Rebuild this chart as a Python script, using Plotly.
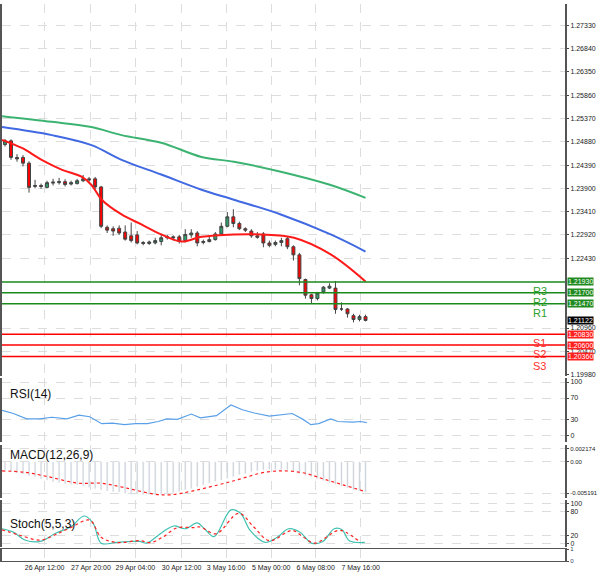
import plotly.graph_objects as go

# 4h candles
opens = [1.2482, 1.2490, 1.2455, 1.2455, 1.2443, 1.2394, 1.2396, 1.2392, 1.2401, 1.2402,
         1.2404, 1.2399, 1.2400, 1.2406, 1.2410, 1.2410, 1.2393, 1.2308, 1.2305, 1.2306,
         1.2298, 1.2290, 1.2292, 1.2276, 1.2274, 1.2275, 1.2278, 1.2286, 1.2288, 1.2288,
         1.2280, 1.2292, 1.2296, 1.2276, 1.2278, 1.2282, 1.2294, 1.2310, 1.2330, 1.2316,
         1.2305, 1.2300, 1.2290, 1.2294, 1.2275, 1.2272, 1.2276, 1.2284, 1.2267, 1.2250,
         1.2198, 1.2166, 1.2158, 1.2172, 1.2180, 1.2180, 1.2136, 1.2136, 1.2122, 1.2114, 1.2120]
closes = [1.2490, 1.2455, 1.2452, 1.2443, 1.2392, 1.2396, 1.2394, 1.2402, 1.2403, 1.2404,
          1.2398, 1.2402, 1.2406, 1.2410, 1.2408, 1.2393, 1.2310, 1.2302, 1.2300, 1.2296,
          1.2283, 1.2280, 1.2275, 1.2274, 1.2277, 1.2280, 1.2286, 1.2288, 1.2286, 1.2278,
          1.2293, 1.2296, 1.2275, 1.2278, 1.2282, 1.2294, 1.2310, 1.2330, 1.2316, 1.2305,
          1.2302, 1.2290, 1.2287, 1.2275, 1.2270, 1.2276, 1.2280, 1.2267, 1.2250, 1.2200,
          1.2165, 1.2158, 1.2170, 1.2182, 1.2184, 1.2135, 1.2136, 1.2126, 1.2114, 1.2120, 1.2112]
highs = [1.2494, 1.2493, 1.2462, 1.2460, 1.2447, 1.2408, 1.2400, 1.2406, 1.2410, 1.2412,
         1.2409, 1.2406, 1.2410, 1.2418, 1.2414, 1.2414, 1.2395, 1.2312, 1.2310, 1.2312,
         1.2312, 1.2318, 1.2300, 1.2279, 1.2280, 1.2286, 1.2292, 1.2292, 1.2291, 1.2292,
         1.2304, 1.2304, 1.2300, 1.2282, 1.2288, 1.2298, 1.2318, 1.2340, 1.2346, 1.2320,
         1.2308, 1.2304, 1.2298, 1.2298, 1.2280, 1.2280, 1.2286, 1.2288, 1.2270, 1.2254,
         1.2200, 1.2168, 1.2172, 1.2184, 1.2190, 1.2195, 1.2150, 1.2138, 1.2126, 1.2124, 1.2124]
lows = [1.2478, 1.2450, 1.2446, 1.2436, 1.2381, 1.2390, 1.2389, 1.2390, 1.2396, 1.2398,
        1.2394, 1.2396, 1.2398, 1.2403, 1.2404, 1.2388, 1.2306, 1.2296, 1.2290, 1.2292,
        1.2280, 1.2276, 1.2272, 1.2270, 1.2271, 1.2272, 1.2270, 1.2282, 1.2280, 1.2274,
        1.2276, 1.2286, 1.2268, 1.2272, 1.2276, 1.2280, 1.2292, 1.2308, 1.2308, 1.2302,
        1.2298, 1.2286, 1.2284, 1.2266, 1.2266, 1.2268, 1.2268, 1.2262, 1.2238, 1.2186,
        1.2158, 1.2148, 1.2154, 1.2168, 1.2178, 1.2126, 1.2132, 1.2118, 1.2108, 1.2110, 1.2110]
bars = list(range(len(closes)))

# moving averages (sampled points)
ma_red_x = [-0.5, 2.8, 6.1, 9.5, 12.8, 14.4, 16.1, 19.4, 22.7, 26, 29.4, 32.7, 38.1, 42.6, 48.1, 54.2, 60]
ma_red = [1.2492, 1.2475, 1.2450, 1.2429, 1.2414, 1.2397, 1.2366, 1.2335, 1.2314, 1.2293,
          1.2278, 1.2288, 1.2293, 1.2293, 1.2286, 1.2251, 1.2194]
ma_blue_x = [-0.5, 7.8, 14.4, 19.4, 26, 32.7, 38.1, 45.9, 54.2, 60]
ma_blue = [1.2519, 1.2502, 1.2481, 1.2450, 1.2419, 1.2387, 1.2366, 1.2335, 1.2293, 1.2257]
ma_green_x = [-0.5, 7.8, 14.4, 19.4, 26, 32.7, 38.1, 45.9, 54.2, 60]
ma_green = [1.2542, 1.2530, 1.2519, 1.2502, 1.2486, 1.2456, 1.2446, 1.2425, 1.2397, 1.2370]

res_levels = [1.2193, 1.2170, 1.2147]
res_names = ["R3", "R2", "R1"]
sup_levels = [1.2083, 1.2060, 1.2036]
sup_names = ["S1", "S2", "S3"]
last_price = 1.21122
price_ticks = [1.1998, 1.2047, 1.2096, 1.2243, 1.2292, 1.2341, 1.2390, 1.2439,
               1.2488, 1.2537, 1.2586, 1.2635, 1.2684, 1.2733]

rsi_x = [-0.5, 1.4, 3.6, 5.8, 7.8, 10.3, 12.3, 14.1, 16.1, 17.9, 19.9, 21.7, 23.7, 25.5, 26.9,
         28.7, 31, 32.5, 35.2, 37.6, 39.5, 41.5, 44, 46.6, 47.8, 49.6, 50.9, 52.2, 54.2, 55.4,
         57.9, 59.2, 60.2]
rsi = [47, 41, 31, 31, 34, 31, 38, 35, 22, 23, 20, 22, 22, 26, 31, 30, 40, 33, 37, 57, 48,
       42, 36, 40, 41, 30, 20, 22, 31, 26, 25, 26, 24]

macd = [-1.3, -1.5, -1.8, -2.0, -2.3, -2.5, -2.8, -3.0, -3.3,
        -3.4, -3.6, -3.7, -3.8, -4.0, -4.2, -4.4, -4.6,
        -4.8, -4.9, -5.0, -5.2, -5.3, -5.3, -5.4, -5.4,
        -5.4, -5.4, -5.3, -5.1, -4.9, -4.6, -4.4, -4.1, -3.8,
        -3.5, -3.2, -3.0, -2.7, -2.4, -2.1, -1.9, -1.6, -1.4, -1.3,
        -1.2, -1.2, -1.2, -1.3, -1.6, -1.9, -2.2,
        -2.4, -2.8, -3.1, -3.4, -3.7, -4.0, -4.3, -4.6, -4.8, -5.0]
macd = [v / 1000 for v in macd]
sig_x = [-0.5, 3.3, 7.1, 12.2, 16, 19.8, 24.9, 27.5, 31.3, 37.6, 44, 49.1, 53.5, 59.9]
sig = [-1.49, -1.71, -2.43, -3.53, -3.53, -4.25, -5.35, -5.46, -4.80, -3.26, -1.60, -1.71, -2.98, -4.91]
sig = [v / 1000 for v in sig]

st_x = [-0.5, 1.4, 3.3, 5.9, 8.4, 10.9, 13.2, 14.7, 16, 18.6, 21.1, 22.4, 23.6, 26.2, 28.1, 30,
        32, 33.2, 34.8, 37.6, 39.2, 40.8, 43.3, 45.3, 47.2, 49.1, 51, 52.9, 54.8, 56.1, 57.3, 59.9]
st_main = [36.5, 27.8, 7.8, 4.3, 25.2, 40.9, 68.7, 49.6, 0, 1.7, 4.3, 4.3, 0, 27.8, 43.5, 36.5,
           51.3, 36.5, 16.5, 84.3, 75.7, 32.2, 1.7, 14.8, 36.5, 27.8, 0, 4.3, 36.5, 33.9, 6.1, 1.7]
sts_x = [-0.5, 2.1, 5.9, 8.4, 10.9, 14.1, 16, 18.6, 22.4, 24.3, 26.2, 28.7, 31.3, 32.5, 35.1,
         38.9, 41.4, 44, 47.8, 49.7, 51.6, 55.4, 56.7, 59.2]
st_sig = [33.9, 21.7, 7.8, 21.7, 39.1, 58.3, 14.8, 1.7, 6.1, 1.7, 14.8, 39.1, 39.1, 40.9, 23.5,
          75.7, 40.9, 6.1, 32.2, 14.8, 0, 32.2, 27.8, 1.7]

date_pos = [6.6, 14.3, 21.7, 29.4, 36.8, 44.3, 51.7, 59.2]
date_labels = ["26 Apr 12:00", "27 Apr 20:00", "29 Apr 04:00", "30 Apr 12:00",
               "3 May 16:00", "5 May 00:00", "6 May 08:00", "7 May 16:00"]

fig = go.Figure()
fig.add_trace(go.Scatter(x=ma_green_x, y=ma_green, mode="lines", line=dict(color="#3cb371", width=2, shape="spline")))
fig.add_trace(go.Scatter(x=ma_blue_x, y=ma_blue, mode="lines", line=dict(color="#4169e1", width=2, shape="spline")))
fig.add_trace(go.Scatter(x=ma_red_x, y=ma_red, mode="lines", line=dict(color="#ff1a1a", width=2, shape="spline")))
fig.add_trace(go.Candlestick(x=bars, open=opens, high=highs, low=lows, close=closes, whiskerwidth=0,
                             increasing=dict(fillcolor="#2e9e6a", line=dict(color="#444", width=1)),
                             decreasing=dict(fillcolor="#ff0000", line=dict(color="#444", width=1))))
fig.add_trace(go.Scatter(x=rsi_x, y=rsi, mode="lines", line=dict(color="#5aa0e8", width=1.2), yaxis="y2"))
fig.add_trace(go.Bar(x=bars, y=macd, marker=dict(color="#c8c8c8"), width=0.2, yaxis="y3"))
fig.add_trace(go.Scatter(x=sig_x, y=sig, mode="lines", line=dict(color="#ff2020", width=1.2, dash="dot", shape="spline"), yaxis="y3"))
fig.add_trace(go.Scatter(x=st_x, y=st_main, mode="lines", line=dict(color="#40c0b0", width=1.2, shape="spline"), yaxis="y4"))
fig.add_trace(go.Scatter(x=sts_x, y=st_sig, mode="lines", line=dict(color="#ff2020", width=1.2, dash="dot", shape="spline"), yaxis="y4"))
fig.add_trace(go.Scatter(x=[0], y=[0.5], mode="markers", marker=dict(opacity=0), yaxis="y5"))

grid = dict(showgrid=True, gridcolor="#dddddd", griddash="dash", gridwidth=1, side="right",
            tickfont=dict(size=7, color="#222"), showline=True, mirror=True, linecolor="#555",
            linewidth=2, zeroline=False, ticks="outside", ticklen=2)

shapes, ann = [], []
for lv, nm in zip(res_levels, res_names):
    shapes.append(dict(type="line", xref="paper", x0=0, x1=1, yref="y", y0=lv, y1=lv,
                       line=dict(color="#1a8a1a", width=1.5)))
    ann.append(dict(x=89, y=lv, yref="y", text=nm, showarrow=False, yanchor="top", yshift=-1,
                    font=dict(color="#2ca02c", size=11)))
    ann.append(dict(xref="paper", x=1.003, y=lv, yref="y", text=f"{lv:.5f}", showarrow=False,
                    xanchor="left", bgcolor="#1f8a1f", borderpad=0, font=dict(color="white", size=7)))
for lv, nm in zip(sup_levels, sup_names):
    shapes.append(dict(type="line", xref="paper", x0=0, x1=1, yref="y", y0=lv, y1=lv,
                       line=dict(color="#ff0000", width=1.5)))
    ann.append(dict(x=89, y=lv, yref="y", text=nm, showarrow=False, yanchor="top", yshift=-1,
                    font=dict(color="#ff3030", size=11)))
    ann.append(dict(xref="paper", x=1.003, y=lv, yref="y", text=f"{lv:.5f}", showarrow=False,
                    xanchor="left", bgcolor="#ff2020", borderpad=0, font=dict(color="white", size=7)))
ann.append(dict(xref="paper", x=1.003, y=last_price, yref="y", text=f"{last_price:.5f}", showarrow=False,
                xanchor="left", bgcolor="black", borderpad=0, font=dict(color="white", size=7)))
ann.append(dict(xref="paper", x=0.01, y=78, yref="y2", text="RSI(14)", showarrow=False, xanchor="left", font=dict(size=12, color="#111")))
ann.append(dict(xref="paper", x=0.01, y=0.0012, yref="y3", text="MACD(12,26,9)", showarrow=False, xanchor="left", font=dict(size=12, color="#111")))
ann.append(dict(xref="paper", x=0.01, y=48, yref="y4", text="Stoch(5,5,3)", showarrow=False, xanchor="left", font=dict(size=12, color="#111")))

fig.update_layout(
    width=600, height=579, paper_bgcolor="white", plot_bgcolor="white", showlegend=False,
    margin=dict(l=0, r=35, t=4, b=18), font=dict(family="Liberation Sans"),
    xaxis=dict(range=[-0.5, 93.2], rangeslider=dict(visible=False), showgrid=True, gridcolor="#dddddd",
               griddash="dash", tickvals=date_pos, ticktext=date_labels, tickangle=0,
               tickfont=dict(size=7, color="#222"),
               showline=True, mirror=True, linecolor="#555", anchor="y5", ticks=""),
    yaxis=dict(grid, domain=[0.333, 1], range=[1.1996, 1.2778], tickvals=price_ticks, tickformat=".5f"),
    yaxis2=dict(grid, domain=[0.214, 0.329], range=[-12, 108], tickvals=[0, 30, 70, 100]),
    yaxis3=dict(grid, domain=[0.113, 0.208], range=[-0.0060, 0.0028], tickvals=[-0.005191, 0, 0.002174],
                ticktext=["-0.005191", "0.00", "0.002174"], tickfont=dict(size=6, color="#222")),
    yaxis4=dict(grid, domain=[0.025, 0.110], range=[-10, 110], tickvals=[0, 20, 80, 100]),
    yaxis5=dict(grid, domain=[0, 0.021], range=[0, 1], tickvals=[0, 1], tickfont=dict(size=6)),
    shapes=shapes, annotations=ann,
)
fig.write_html("out.html", config={"displayModeBar": False},
               post_script="document.body.style.margin='0';document.body.style.overflow='hidden';")
